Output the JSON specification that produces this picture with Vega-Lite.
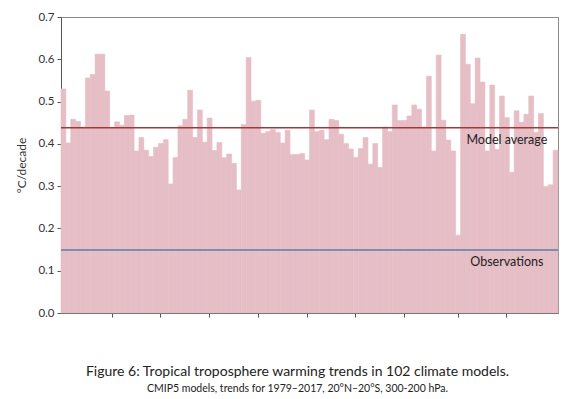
{
  "$schema": "https://vega.github.io/schema/vega-lite/v6.json",
  "width": 497,
  "height": 296,
  "autosize": {"type": "none"},
  "padding": {"left": 61, "top": 17, "right": 12, "bottom": 86},
  "background": "white",
  "config": {
    "view": {"stroke": "#8a8a8a", "strokeWidth": 1},
    "font": "Lato"
  },
  "title": {
    "text": "Figure 6: Tropical troposphere warming trends in 102 climate models.",
    "subtitle": "CMIP5 models, trends for 1979–2017, 20°N–20°S, 300-200 hPa.",
    "orient": "bottom",
    "anchor": "middle",
    "offset": 46,
    "dx": -12,
    "font": "Lato",
    "fontSize": 14,
    "fontWeight": "normal",
    "color": "#222222",
    "subtitleFont": "Lato",
    "subtitleFontSize": 10.5,
    "subtitleColor": "#222222",
    "subtitlePadding": 5
  },
  "datasets": {
    "models": [
      {"model": 1, "trend": 0.530}, {"model": 2, "trend": 0.402}, {"model": 3, "trend": 0.458}, {"model": 4, "trend": 0.453},
      {"model": 5, "trend": 0.440}, {"model": 6, "trend": 0.556}, {"model": 7, "trend": 0.564}, {"model": 8, "trend": 0.612},
      {"model": 9, "trend": 0.612}, {"model": 10, "trend": 0.525}, {"model": 11, "trend": 0.438}, {"model": 12, "trend": 0.452},
      {"model": 13, "trend": 0.444}, {"model": 14, "trend": 0.467}, {"model": 15, "trend": 0.468}, {"model": 16, "trend": 0.383},
      {"model": 17, "trend": 0.415}, {"model": 18, "trend": 0.385}, {"model": 19, "trend": 0.370}, {"model": 20, "trend": 0.392},
      {"model": 21, "trend": 0.401}, {"model": 22, "trend": 0.410}, {"model": 23, "trend": 0.305}, {"model": 24, "trend": 0.368},
      {"model": 25, "trend": 0.443}, {"model": 26, "trend": 0.458}, {"model": 27, "trend": 0.527}, {"model": 28, "trend": 0.415},
      {"model": 29, "trend": 0.480}, {"model": 30, "trend": 0.404}, {"model": 31, "trend": 0.461}, {"model": 32, "trend": 0.384},
      {"model": 33, "trend": 0.403}, {"model": 34, "trend": 0.367}, {"model": 35, "trend": 0.376}, {"model": 36, "trend": 0.354},
      {"model": 37, "trend": 0.291}, {"model": 38, "trend": 0.446}, {"model": 39, "trend": 0.604}, {"model": 40, "trend": 0.501},
      {"model": 41, "trend": 0.503}, {"model": 42, "trend": 0.425}, {"model": 43, "trend": 0.429}, {"model": 44, "trend": 0.434},
      {"model": 45, "trend": 0.427}, {"model": 46, "trend": 0.402}, {"model": 47, "trend": 0.432}, {"model": 48, "trend": 0.375},
      {"model": 49, "trend": 0.375}, {"model": 50, "trend": 0.377}, {"model": 51, "trend": 0.362}, {"model": 52, "trend": 0.480},
      {"model": 53, "trend": 0.429}, {"model": 54, "trend": 0.432}, {"model": 55, "trend": 0.410}, {"model": 56, "trend": 0.458},
      {"model": 57, "trend": 0.455}, {"model": 58, "trend": 0.423}, {"model": 59, "trend": 0.401}, {"model": 60, "trend": 0.388},
      {"model": 61, "trend": 0.368}, {"model": 62, "trend": 0.389}, {"model": 63, "trend": 0.415}, {"model": 64, "trend": 0.352},
      {"model": 65, "trend": 0.401}, {"model": 66, "trend": 0.344}, {"model": 67, "trend": 0.440}, {"model": 68, "trend": 0.429},
      {"model": 69, "trend": 0.492}, {"model": 70, "trend": 0.455}, {"model": 71, "trend": 0.455}, {"model": 72, "trend": 0.466},
      {"model": 73, "trend": 0.492}, {"model": 74, "trend": 0.482}, {"model": 75, "trend": 0.440}, {"model": 76, "trend": 0.560},
      {"model": 77, "trend": 0.383}, {"model": 78, "trend": 0.610}, {"model": 79, "trend": 0.456}, {"model": 80, "trend": 0.409},
      {"model": 81, "trend": 0.383}, {"model": 82, "trend": 0.184}, {"model": 83, "trend": 0.659}, {"model": 84, "trend": 0.588},
      {"model": 85, "trend": 0.495}, {"model": 86, "trend": 0.603}, {"model": 87, "trend": 0.546}, {"model": 88, "trend": 0.383},
      {"model": 89, "trend": 0.539}, {"model": 90, "trend": 0.387}, {"model": 91, "trend": 0.513}, {"model": 92, "trend": 0.462},
      {"model": 93, "trend": 0.333}, {"model": 94, "trend": 0.478}, {"model": 95, "trend": 0.451}, {"model": 96, "trend": 0.470},
      {"model": 97, "trend": 0.513}, {"model": 98, "trend": 0.427}, {"model": 99, "trend": 0.472}, {"model": 100, "trend": 0.299},
      {"model": 101, "trend": 0.303}, {"model": 102, "trend": 0.385}
    ],
    "refs": [
      {"label": "Model average", "value": 0.438, "color": "#9e3a3c", "at": 92},
      {"label": "Observations", "value": 0.149, "color": "#5b7ea6", "at": 92}
    ]
  },
  "layer": [
    {
      "data": {"name": "models"},
      "mark": {"type": "bar", "color": "#e6bec6", "stroke": "#e6bec6", "strokeWidth": 0.6},
      "encoding": {
        "x": {
          "field": "model", "type": "ordinal",
          "scale": {"paddingInner": 0, "paddingOuter": 0},
          "axis": {
            "title": null, "labels": false,
            "values": [11, 21, 31, 41, 51, 61, 71, 82, 92],
            "tickSize": 4, "tickColor": "#555555", "domainColor": "#555555"
          }
        },
        "y": {
          "field": "trend", "type": "quantitative",
          "scale": {"domain": [0, 0.7], "nice": false},
          "axis": {
            "title": "°C/decade", "values": [0, 0.1, 0.2, 0.3, 0.4, 0.5, 0.6, 0.7],
            "format": ".1f", "grid": false, "tickSize": 4,
            "tickColor": "#555555", "domainColor": "#555555",
            "labelFont": "Lato", "labelFontSize": 11.5, "labelColor": "#333333", "labelPadding": 3,
            "titleFont": "Lato", "titleFontSize": 12, "titleFontWeight": "normal", "titleColor": "#333333", "titlePadding": 9
          }
        }
      }
    },
    {
      "data": {"name": "refs"},
      "mark": {"type": "rule", "strokeWidth": 1.6},
      "encoding": {
        "y": {"field": "value", "type": "quantitative"},
        "color": {"field": "color", "type": "nominal", "scale": null}
      }
    },
    {
      "data": {"name": "refs"},
      "mark": {"type": "text", "font": "Lato", "fontSize": 12.5, "color": "#222222", "baseline": "middle", "align": "center", "dy": 12},
      "encoding": {
        "x": {"field": "at", "type": "ordinal"},
        "y": {"field": "value", "type": "quantitative"},
        "text": {"field": "label"}
      }
    }
  ]
}
